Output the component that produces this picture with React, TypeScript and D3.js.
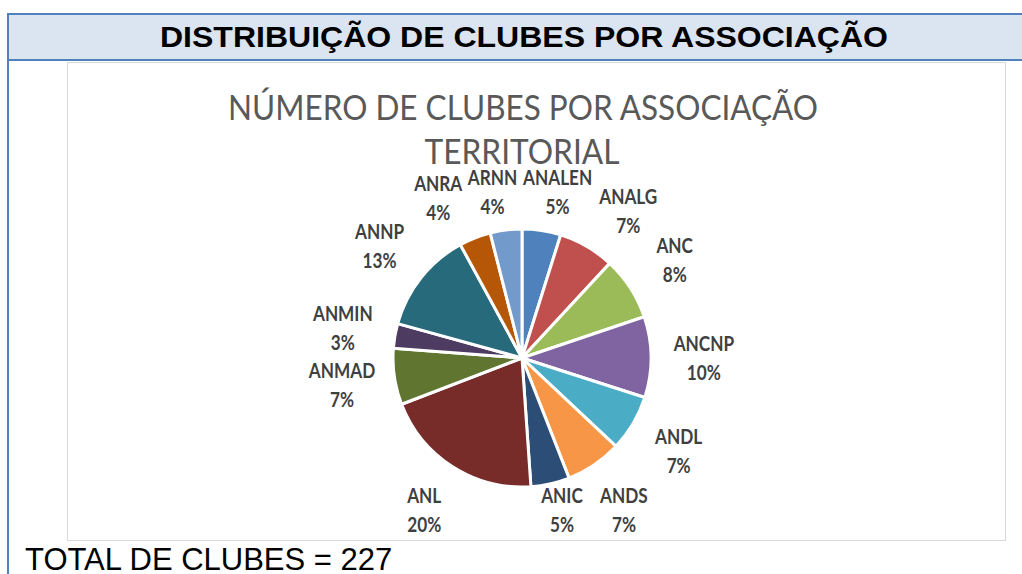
import React from "react";
import * as d3 from "d3";

const categories = ["ANALEN", "ANALG", "ANC", "ANCNP", "ANDL", "ANDS", "ANIC", "ANL", "ANMAD", "ANMIN", "ANNP", "ANRA", "ARNN"];
const clubs = [11, 16, 18, 23, 16, 16, 11, 46, 16, 7, 29, 9, 9];
const colors = ["#4f81bd", "#c0504d", "#9bbb59", "#8064a2", "#4bacc6", "#f79646", "#2c4d75", "#772c2a", "#5f7530", "#4d3b62", "#276a7c", "#b65708", "#729aca"];
const headerText = "DISTRIBUIÇÃO DE CLUBES POR ASSOCIAÇÃO";
const titleLines = ["NÚMERO DE CLUBES POR ASSOCIAÇÃO", "TERRITORIAL"];
const totalText = "TOTAL DE CLUBES = 227";

// label layout: labels on a ring, pushed apart along the ring when their boxes collide,
// then kept inside the plot area (vertical limits relative to pie centre)
function layoutLabels(arcs: any[], R: number, yMin: number, yMax: number) {
  const n = arcs.length;
  const ang = arcs.map((a) => (a.startAngle + a.endAngle) / 2);
  const wid = arcs.map((a) => a.data.name.length * 11 + 10);
  const h = 44;
  const pos = (i: number) => {
    const x = R * Math.sin(ang[i]);
    const y = Math.max(yMin, Math.min(yMax, -R * Math.cos(ang[i])));
    return [x, y];
  };
  for (let it = 0; it < 3000; it++) {
    let moved = false;
    for (let i = 0; i < n; i++) {
      const j = (i + 1) % n;
      const [xi, yi] = pos(i);
      const [xj, yj] = pos(j);
      const ox = (wid[i] + wid[j]) / 2 - Math.abs(xi - xj);
      const oy = h - Math.abs(yi - yj);
      if (ox > 0 && oy > 0) {
        const d = 0.001;
        ang[i] -= d;
        ang[j] += d;
        moved = true;
      }
    }
    if (!moved) break;
  }
  return ang.map((_, i) => pos(i));
}

export default function App() {
  const W = 1022, H = 574;
  const cx = 522, cy = 358, r = 129;
  const total = d3.sum(clubs);
  const data = categories.map((c, i) => ({ name: c, value: clubs[i], color: colors[i] }));
  const pie = d3.pie<any>().value((d: any) => d.value).sort(null);
  const arcs = pie(data);
  const arc = d3.arc<any>().innerRadius(0).outerRadius(r);
  const labelPos = layoutLabels(arcs, r * 1.41, 191 - cy, 509 - cy);
  const fmt = d3.format(".0%");
  return (
    <svg width={W} height={H} style={{ position: "absolute", left: 0, top: 0, display: "block" }}>
      <rect x={0} y={0} width={W} height={H} fill="#ffffff" />
      <rect x={8} y={14} width={W + 10} height={46} fill="#dbe5f1" stroke="#4f81bd" strokeWidth={2} />
      <line x1={8} y1={14} x2={8} y2={H} stroke="#4f81bd" strokeWidth={2} />
      <text x={524} y={47} textAnchor="middle" fontFamily="Liberation Sans, Arial, sans-serif" fontWeight="bold" fontSize={30} fill="#000" textLength={728} lengthAdjust="spacingAndGlyphs">{headerText}</text>
      <rect x={67.5} y={62.5} width={938} height={478} fill="#fff" stroke="#d9d9d9" strokeWidth={1} />
      <text x={523} y={120} textAnchor="middle" fontFamily="Lato, 'Open Sans', sans-serif" fontSize={34} fill="#595959" textLength={590} lengthAdjust="spacingAndGlyphs">{titleLines[0]}</text>
      <text x={522} y={164} textAnchor="middle" fontFamily="Lato, 'Open Sans', sans-serif" fontSize={34} fill="#595959" textLength={195} lengthAdjust="spacingAndGlyphs">{titleLines[1]}</text>
      <g transform={`translate(${cx},${cy})`}>
        {arcs.map((a, i) => (
          <path key={i} d={arc(a) as string} fill={a.data.color} stroke="#fff" strokeWidth={3} strokeLinejoin="round" />
        ))}
        {arcs.map((a, i) => {
          const [lx, ly] = labelPos[i];
          return (
            <text key={"l" + i} transform={`translate(${lx},${ly}) scale(0.86,1)`} textAnchor="middle" fontFamily="Lato, 'Open Sans', sans-serif" fontWeight="bold" fontSize={20} fill="#404040">
              <tspan x={0} dy={-6}>{a.data.name}</tspan>
              <tspan x={0} dy={29}>{fmt(a.data.value / total)}</tspan>
            </text>
          );
        })}
      </g>
      <text x={25} y={570} fontFamily="Liberation Sans, Arial, sans-serif" fontSize={31} fill="#000">{totalText}</text>
    </svg>
  );
}
